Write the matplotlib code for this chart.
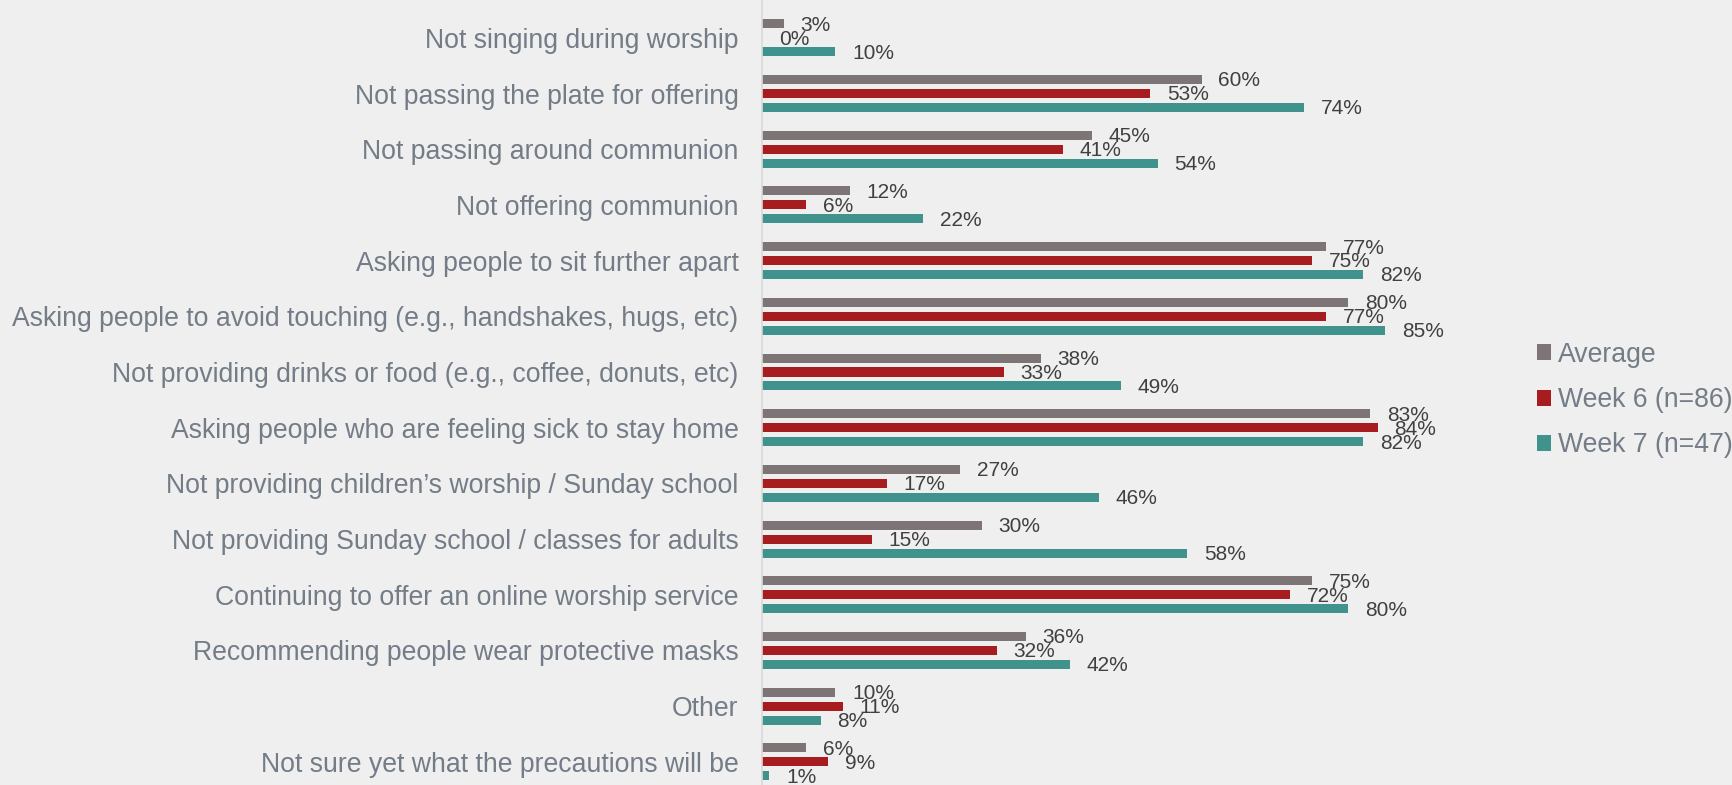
import matplotlib
matplotlib.use("Agg")
import numpy as np
import matplotlib.pyplot as plt
from matplotlib.patches import Patch

plt.rcParams["font.family"] = ["Liberation Sans", "DejaVu Sans"]

categories = [
    "Not singing during worship",
    "Not passing the plate for offering",
    "Not passing around communion",
    "Not offering communion",
    "Asking people to sit further apart",
    "Asking people to avoid touching (e.g., handshakes, hugs, etc)",
    "Not providing drinks or food (e.g., coffee, donuts, etc)",
    "Asking people who are feeling sick to stay home",
    "Not providing children\u2019s worship / Sunday school",
    "Not providing Sunday school / classes for adults",
    "Continuing to offer an online worship service",
    "Recommending people wear protective masks",
    "Other",
    "Not sure yet what the precautions will be",
]
average = [3, 60, 45, 12, 77, 80, 38, 83, 27, 30, 75, 36, 10, 6]
week6 = [0, 53, 41, 6, 75, 77, 33, 84, 17, 15, 72, 32, 11, 9]
week7 = [10, 74, 54, 22, 82, 85, 49, 82, 46, 58, 80, 42, 8, 1]
series_names = ["Average", "Week 6 (n=86)", "Week 7 (n=47)"]

colors = ["#7d7475", "#a71c1f", "#40928d"]
bg = "#efefef"
label_color = "#737c87"
value_color = "#404040"

fig = plt.figure(figsize=(17.32, 7.85), dpi=100, facecolor=bg)
ax = fig.add_axes([762 / 1732, 0, 733 / 1732, 1])
ax.set_facecolor(bg)

y = np.arange(len(categories))
bh = 0.162
off = 0.251
for vals, dy, c in zip([average, week6, week7], [-off, 0, off], colors):
    bars = ax.barh(y + dy, vals, height=bh, color=c, edgecolor="none")
    for b, v in zip(bars, vals):
        ax.annotate(f"{v}%", (b.get_width(), b.get_y() + b.get_height() / 2),
                    xytext=(12, -1), textcoords="offset points",
                    ha="left", va="center", fontsize=15, color=value_color)

ax.set_xlim(0, 100)
ax.set_ylim(13.415, -0.679)
ax.set_yticks(y)
ax.set_yticklabels(categories, fontsize=19.2, color=label_color)
ax.tick_params(axis="y", length=0, pad=17)
ax.set_xticks([])
for s in ["top", "right", "bottom"]:
    ax.spines[s].set_visible(False)
ax.spines["left"].set_color("#d9d9d9")
ax.spines["left"].set_linewidth(1.2)

handles = [Patch(facecolor=c, edgecolor="none") for c in colors]
leg = fig.legend(handles, series_names, loc="center left",
                 bbox_to_anchor=(1537 / 1732, 1 - 400 / 785),
                 frameon=False, fontsize=19.2, handlelength=0.54, handleheight=0.54,
                 handletextpad=0.25, labelspacing=0.72, borderpad=0, borderaxespad=0)
for t in leg.get_texts():
    t.set_color(label_color)

fig.savefig("out.png", dpi=100, facecolor=bg)
